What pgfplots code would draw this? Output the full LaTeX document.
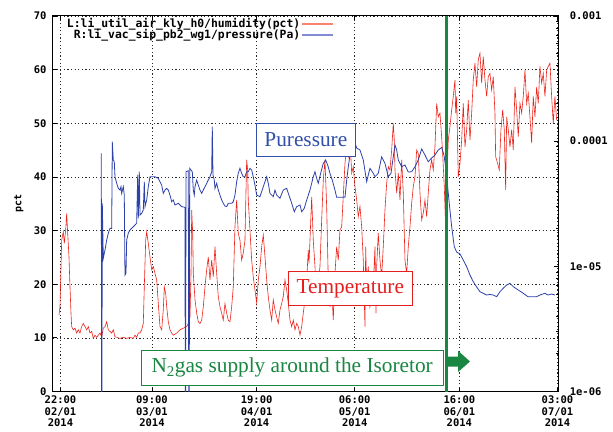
\documentclass[border=0pt]{standalone}
\usepackage{fontspec}
\setmainfont{Liberation Serif}
\setmonofont{DejaVu Sans Mono}
\usepackage{pgfplots}
\usepackage{pgfplotstable}
\pgfplotsset{compat=1.18}
\definecolor{redline}{RGB}{235,35,25}
\definecolor{blueline}{RGB}{45,65,170}
\definecolor{legred}{RGB}{250,130,110}
\definecolor{legblue}{RGB}{130,140,210}
\definecolor{ngreen}{RGB}{25,135,65}
\definecolor{annblue}{RGB}{50,80,170}
\definecolor{annred}{RGB}{230,30,30}

\pgfplotstableread{
d p
-0.45 14.3
-0.15 15.8
0.36 28.2
0.84 29.8
1.14 27.6
1.56 30.1
1.86 33.2
2.16 29.5
2.55 25.1
2.85 19.5
3.15 14.6
3.36 12.1
3.84 11.5
4.35 11.8
4.86 10.9
5.34 11.5
5.85 10.9
6.36 12.1
6.84 12.7
7.35 12.1
7.87 11.5
8.35 12.1
8.86 10.9
9.37 11.2
9.85 9.9
10.36 10.5
10.87 10.1
11.35 10.5
11.86 10.9
12.37 10.2
12.85 11.8
13.36 12.1
13.87 13.0
14.35 11.5
14.86 11.2
15.37 10.9
15.85 11.5
16.36 10.2
16.87 10.1
17.86 9.9
18.85 10.1
19.87 9.9
20.86 10.1
21.85 9.9
22.36 10.5
22.87 10.1
23.36 10.9
23.87 10.9
24.38 11.5
24.86 12.7
25.16 19.5
25.58 28.2
25.88 29.8
26.36 27.6
26.87 25.1
27.38 22.7
27.86 23.3
28.37 22.0
28.88 20.8
29.36 16.4
29.87 12.1
30.38 11.5
30.86 15.2
31.16 19.5
31.58 18.3
31.88 15.8
32.36 13.0
32.87 11.5
33.38 10.9
33.86 10.5
34.88 10.9
35.87 11.5
36.86 11.8
37.88 12.1
38.36 12.7
38.88 13.9
39.18 22.0
39.39 33.8
39.69 29.5
39.87 22.0
40.38 17.1
40.89 14.6
41.37 13.0
41.88 12.7
42.39 13.3
42.87 15.8
43.38 19.5
43.89 22.7
44.37 25.1
44.88 20.8
45.39 24.5
45.87 21.4
46.38 27.0
46.89 22.0
47.37 17.7
47.88 15.8
48.39 14.6
48.87 13.3
49.38 16.4
49.89 14.6
50.37 13.3
50.88 13.0
51.39 15.8
51.87 19.5
52.38 30.7
52.89 35.7
53.37 29.5
53.88 28.2
54.39 24.5
54.87 25.8
55.38 28.2
55.89 43.2
56.19 41.3
56.37 35.7
56.88 30.1
57.39 24.5
57.87 21.4
58.39 18.9
58.90 16.5
59.38 20.8
59.89 23.3
60.40 27.0
60.88 29.2
61.39 25.1
61.90 20.8
62.38 17.7
62.89 15.2
63.40 13.3
63.88 17.1
64.39 15.2
64.90 13.9
65.38 12.7
65.89 15.2
66.40 16.4
66.88 17.7
67.39 20.8
67.91 18.9
68.39 16.4
68.90 13.3
69.41 12.1
69.89 13.3
70.40 11.5
70.91 12.7
71.39 12.1
71.90 10.5
72.41 12.1
72.89 14.6
73.40 17.1
73.91 20.8
74.39 26.4
74.60 23.9
74.90 28.2
75.41 36.3
75.89 28.2
76.40 23.3
76.91 17.1
77.39 20.2
77.90 23.3
78.41 32.0
78.89 39.4
79.40 43.2
79.91 34.5
80.39 20.8
80.90 15.8
81.41 19.5
81.89 13.3
82.40 22.0
82.91 27.0
83.40 24.5
83.90 30.1
84.41 30.7
84.89 36.3
85.40 42.5
85.91 45.6
86.40 43.8
86.91 46.9
87.42 40.7
87.90 41.9
88.41 38.2
88.92 35.7
89.40 32.6
89.91 34.5
90.42 30.7
90.90 24.5
91.41 12.1
91.62 27.0
91.92 19.5
92.40 23.3
92.91 15.8
93.42 17.1
93.90 19.5
94.41 27.0
94.71 14.6
94.92 23.3
95.40 29.5
95.91 24.5
96.42 21.4
96.90 27.0
97.41 33.8
97.92 38.8
98.41 41.9
98.91 41.3
99.42 45.0
99.91 50.0
100.21 46.9
100.42 41.3
100.93 37.0
101.41 40.7
101.92 35.7
102.43 43.2
102.91 37.0
103.42 24.5
103.93 22.0
104.41 27.0
104.92 30.7
105.43 35.1
105.91 38.2
106.42 40.0
106.93 45.0
107.41 44.4
107.92 37.0
108.43 32.0
108.91 33.2
109.42 35.7
109.93 32.6
110.41 37.0
110.92 41.3
111.43 43.2
111.91 41.3
112.42 45.6
112.93 53.7
113.41 51.2
113.92 51.9
114.43 47.5
114.73 44.4
115.22 38.2
115.73 28.9
115.94 38.8
116.42 46.9
116.93 49.4
117.44 52.5
117.92 55.0
118.43 58.1
118.64 51.9
118.94 55.0
119.42 40.0
119.93 42.5
120.44 46.9
120.92 53.7
121.43 45.6
121.94 48.8
122.42 54.3
122.93 46.9
123.44 51.9
123.92 58.1
124.43 61.2
124.94 56.8
125.42 61.8
125.93 63.1
126.44 57.5
126.92 62.4
127.43 58.1
127.94 55.0
128.42 58.7
128.93 59.3
129.44 56.2
129.92 58.7
130.43 51.9
130.64 43.8
131.24 42.5
131.72 41.3
132.23 48.8
132.75 52.5
133.23 48.8
133.65 37.6
133.95 51.2
134.43 48.8
134.94 45.6
135.45 48.8
135.93 45.0
136.44 56.8
136.95 52.5
137.43 47.5
137.94 53.7
138.45 51.9
138.93 55.0
139.44 59.9
139.95 53.7
140.43 55.6
140.94 51.2
141.45 46.3
141.93 55.0
142.44 51.2
142.95 56.8
143.43 53.7
143.94 60.6
144.45 57.5
144.93 59.3
145.44 55.0
145.95 59.9
146.43 60.6
146.94 61.2
147.45 55.0
147.93 50.0
148.44 55.0
148.95 50.6
}\humid

\pgfplotstableread{
d P
12.25 8.0e-5
12.37 1e-7
12.55 3.19e-5
12.85 1.16e-5
13.36 1.35e-5
13.87 1.62e-5
14.35 1.84e-5
14.86 2.01e-5
15.37 2.01e-5
15.55 9.90e-5
15.85 7.07e-5
16.15 6.85e-5
16.36 5.20e-5
16.87 4.61e-5
17.35 4.20e-5
17.86 4.07e-5
18.16 4.33e-5
18.37 3.83e-5
18.85 4.33e-5
19.15 3.71e-5
19.36 8.52e-6
19.66 8.80e-6
19.87 1.62e-5
20.35 1.84e-5
20.86 1.95e-5
21.85 2.07e-5
22.36 2.14e-5
22.87 2.21e-5
23.18 5.37e-5
23.36 2.42e-5
23.66 5.70e-5
23.87 2.57e-5
24.38 2.65e-5
24.86 2.82e-5
25.16 4.74e-5
25.37 3.00e-5
25.88 3.39e-5
26.36 4.33e-5
26.87 5.20e-5
27.38 5.20e-5
28.37 5.20e-5
29.36 5.05e-5
30.38 4.46e-5
30.86 3.83e-5
31.37 4.07e-5
31.88 4.20e-5
32.36 4.07e-5
32.87 3.71e-5
33.38 3.28e-5
33.86 3.39e-5
34.37 3.09e-5
35.36 3.19e-5
36.38 3.00e-5
37.37 2.96e-5
37.52 1e-7
37.67 5.70e-5
38.36 5.81e-5
38.58 1e-7
38.79 6.07e-5
39.18 5.88e-5
39.57 5.70e-5
39.87 4.07e-5
40.17 3.71e-5
40.38 4.33e-5
40.89 4.89e-5
41.37 4.46e-5
41.88 4.07e-5
42.39 3.83e-5
42.87 4.07e-5
43.38 4.33e-5
43.89 4.61e-5
44.37 4.89e-5
44.88 5.20e-5
45.39 5.70e-5
45.57 1.305e-4
45.78 5.37e-5
46.17 4.89e-5
46.38 4.20e-5
46.89 4.61e-5
47.37 4.07e-5
47.88 3.71e-5
48.39 3.39e-5
48.87 3.19e-5
49.38 3.03e-5
49.89 3.00e-5
50.37 3.19e-5
51.39 3.19e-5
51.87 3.28e-5
52.38 3.71e-5
52.89 4.74e-5
53.37 5.54e-5
53.88 6.07e-5
54.39 5.54e-5
54.87 5.20e-5
55.38 5.20e-5
55.89 5.70e-5
56.37 5.70e-5
56.88 6.07e-5
57.39 5.88e-5
57.87 5.20e-5
58.38 4.46e-5
58.89 3.71e-5
59.88 3.60e-5
60.88 4.33e-5
61.90 5.20e-5
62.38 4.61e-5
62.89 3.83e-5
63.88 3.60e-5
64.39 4.07e-5
64.90 3.71e-5
65.89 3.50e-5
66.88 4.07e-5
67.91 4.20e-5
68.39 3.83e-5
68.90 3.50e-5
69.41 3.19e-5
70.19 2.73e-5
70.91 3.00e-5
71.90 3.09e-5
72.41 2.73e-5
73.19 2.91e-5
73.91 3.39e-5
74.90 4.07e-5
75.89 5.20e-5
76.40 5.70e-5
76.91 5.05e-5
77.39 4.61e-5
78.11 5.54e-5
78.89 6.65e-5
79.61 7.07e-5
80.21 6.45e-5
80.90 5.54e-5
81.59 4.89e-5
82.40 4.07e-5
82.91 3.56e-5
85.41 3.56e-5
85.92 4.89e-5
86.40 6.25e-5
86.91 7.75e-5
87.42 9.03e-5
87.90 1.04e-4
88.41 9.67e-5
88.92 8.82e-5
89.91 8.50e-5
90.90 7.07e-5
91.92 4.74e-5
92.40 5.37e-5
92.91 6.07e-5
93.90 5.54e-5
94.41 5.20e-5
95.40 5.54e-5
96.42 7.51e-5
97.41 6.65e-5
98.41 5.20e-5
99.22 5.54e-5
99.91 7.51e-5
100.42 9.32e-5
100.93 8.50e-5
101.41 7.07e-5
102.43 6.25e-5
103.42 6.45e-5
104.41 5.67e-5
105.43 5.70e-5
106.42 6.25e-5
107.41 7.07e-5
108.43 8.66e-5
109.42 7.75e-5
110.41 6.85e-5
111.43 7.34e-5
112.42 7.75e-5
113.41 8.50e-5
114.43 8.90e-5
115.12 7.75e-5
115.63 6.25e-5
116.23 4.33e-5
116.71 3.19e-5
117.44 2.07e-5
118.22 1.435e-5
118.94 1.30e-5
119.93 1.255e-5
120.92 1.124e-5
121.94 9.93e-6
122.93 8.52e-6
123.92 7.54e-6
124.94 6.84e-6
125.93 6.27e-6
126.92 6.09e-6
127.94 5.90e-6
128.93 5.96e-6
129.92 5.90e-6
130.94 5.72e-6
131.93 6.27e-6
132.92 6.68e-6
133.95 7.09e-6
134.94 7.32e-6
135.93 6.88e-6
137.43 6.47e-6
138.93 6.09e-6
140.34 5.72e-6
141.45 5.72e-6
142.95 5.72e-6
143.94 5.90e-6
145.44 6.09e-6
146.34 5.90e-6
147.45 6.01e-6
148.44 5.90e-6
}\press

\begin{document}
\begin{tikzpicture}
\begin{axis}[
  scale only axis, width=505.3pt, height=375.5pt,
  xmin=-2.25, xmax=149.45, ymin=0, ymax=70,
  xtick={0,27.458,58.875,88.333,119.75,149.208},
  xticklabels={{22:00\\02/01\\2014},{09:00\\03/01\\2014},{19:00\\04/01\\2014},{06:00\\05/01\\2014},{16:00\\06/01\\2014},{03:00\\07/01\\2014}},
  minor x tick num=2,
  ytick={0,10,...,70}, ytick pos=left,
  xmajorgrids, ymajorgrids,
  major grid style={black!85, line width=0.7pt, dash pattern=on 1.2pt off 2.4pt},
  tick align=inside,
  tick style={black, line width=0.8pt},
  major tick length=4pt, minor tick length=2.5pt,
  axis line style={black, line width=1pt},
  tick label style={font=\ttfamily\bfseries\fontsize{10.5}{11.5}\selectfont},
  /pgf/number format/assume math mode=true,
  xticklabel style={align=center, yshift=-3.5pt, inner sep=1pt},
  yticklabel style={xshift=-3pt},
  ylabel={pct},
  every axis y label/.style={at={(rel axis cs:-0.0673,0.5)}, rotate=90, anchor=center, font=\ttfamily\bfseries\fontsize{10}{12}\selectfont},
  legend style={draw=none, fill=none, at={(rel axis cs:0.556,0.997)}, anchor=north east,
    font=\ttfamily\bfseries\fontsize{11.4}{12}\selectfont, inner sep=0pt, row sep=-2pt,
    nodes={inner sep=1.2pt}},
  legend cell align=right, legend plot pos=right,
  legend image code/.code={\draw[#1, line width=1.2pt] (2pt,0pt) -- (33pt,0pt);},
]
\addlegendimage{legred}
\addlegendentry{L:li\_util\_air\_kly\_h0/humidity(pct)}
\addlegendimage{legblue}
\addlegendentry{R:li\_vac\_sip\_pb2\_wg1/pressure(Pa)}
\addplot[redline, line width=0.6pt, forget plot] table[x=d,y=p]{\humid};
\coordinate (bl) at (rel axis cs:0,0);
\coordinate (tr) at (rel axis cs:1,1);
\end{axis}
\begin{axis}[
  scale only axis, width=505.3pt, height=375.5pt,
  xmin=-2.25, xmax=149.45,
  ymode=log, ymin=1e-6, ymax=1e-3,
  axis x line=none, axis y line*=right,
  ytick={1e-6,1e-5,1e-4,1e-3},
  yticklabels={1e-06,1e-05,0.0001,0.001},
  tick align=inside,
  tick style={black, line width=0.8pt},
  major tick length=4pt, minor tick length=2.5pt,
  axis line style={black, line width=1pt},
  yticklabel style={anchor=west, xshift=8pt, font=\ttfamily\bfseries\fontsize{10.5}{11.5}\selectfont},
]
\addplot[blueline, line width=0.8pt] table[x=d,y=P]{\press};
\draw[ngreen, line width=2.5pt] (rel axis cs:0.7788,0) -- (rel axis cs:0.7788,1);
\fill[ngreen] (rel axis cs:0.7787,0.0927) -- (rel axis cs:0.8015,0.0927) -- (rel axis cs:0.8015,0.1087)
  -- (rel axis cs:0.8252,0.0799) -- (rel axis cs:0.8015,0.0519) -- (rel axis cs:0.8015,0.0660)
  -- (rel axis cs:0.7787,0.0660) -- cycle;
\node[draw=annblue, line width=1pt, fill=white, text=annblue, minimum width=98.3pt, minimum height=33.4pt,
  inner sep=0pt, font=\fontsize{21.3}{24}\selectfont] at (rel axis cs:0.5004,0.6698) {Puressure};
\node[draw=annred, line width=1pt, fill=white, text=annred, minimum width=124pt, minimum height=33.3pt,
  inner sep=0pt, font=\fontsize{21.3}{24}\selectfont] at (rel axis cs:0.5884,0.2747) {Temperature};
\node[draw=ngreen, line width=1pt, fill=white, text=ngreen, minimum width=302.3pt, minimum height=34.3pt,
  inner sep=0pt, font=\fontsize{21.3}{24}\selectfont] at (rel axis cs:0.4733,0.0630) {N\textsubscript{2}gas supply around the Isoretor};
\end{axis}
\pgfresetboundingbox
\path[use as bounding box] ([xshift=-53pt,yshift=-39.5pt]bl) rectangle ([xshift=54.7pt,yshift=16pt]tr);
\end{tikzpicture}
\end{document}
